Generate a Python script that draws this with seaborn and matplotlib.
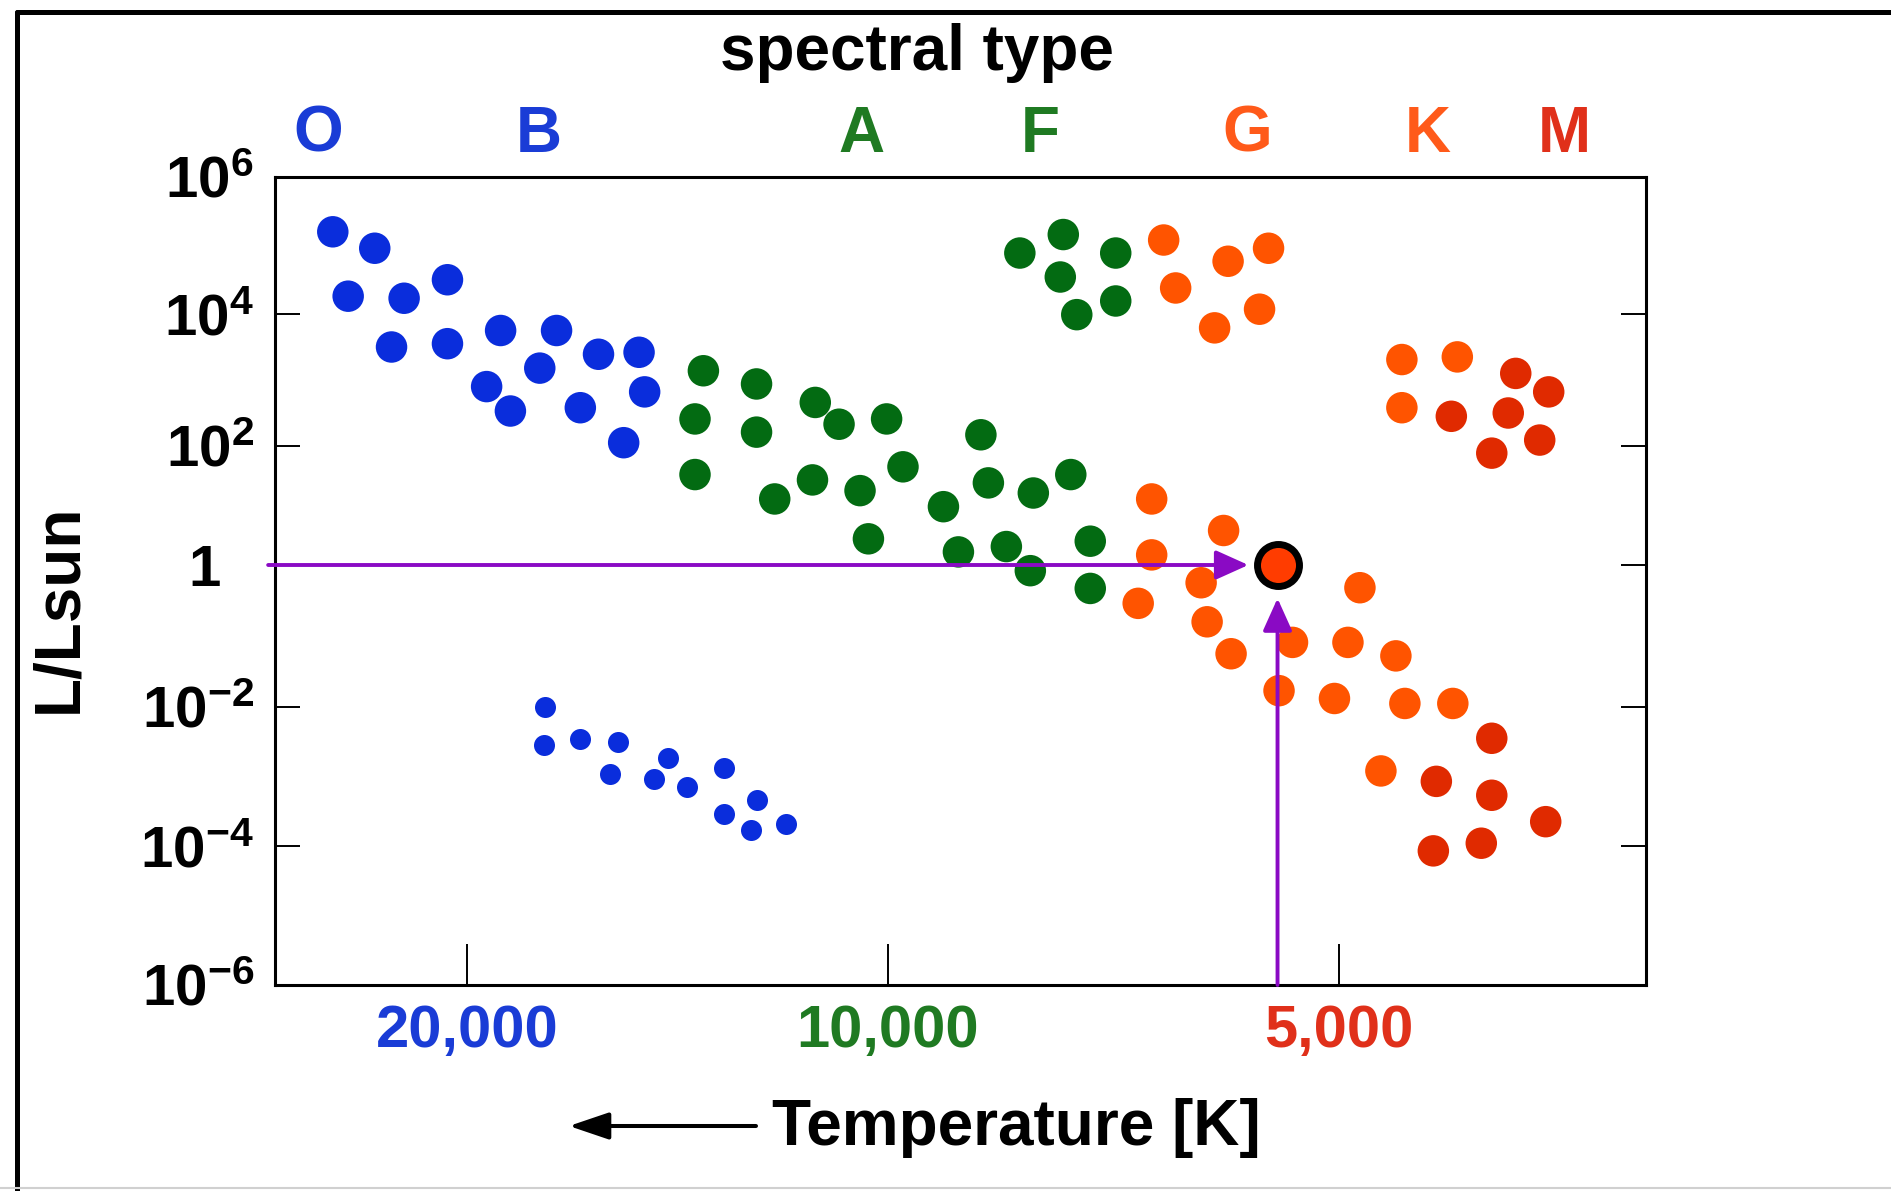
import numpy as np
import pandas as pd
import matplotlib
matplotlib.use("Agg")
import matplotlib.pyplot as plt
import seaborn as sns
from matplotlib.lines import Line2D
from matplotlib.ticker import NullLocator

# ---------------- data: log10(T [K]), log10(L/Lsun) ----------------
blue_logT = [4.397, 4.367, 4.386, 4.346, 4.315, 4.355, 4.315, 4.277, 4.237, 4.249,
             4.287, 4.270, 4.207, 4.178, 4.174, 4.220, 4.189]
blue_logL = [5.20, 4.96, 4.26, 4.23, 4.50, 3.50, 3.55, 3.75, 3.75, 3.18,
             2.90, 2.53, 3.39, 3.42, 2.82, 2.58, 2.05]

green_logT = [4.132, 4.094, 4.138, 4.094, 4.138, 4.081, 4.052, 4.035, 4.001, 4.054,
              4.020, 3.990, 3.938, 3.963, 3.933, 3.903, 3.878, 4.014, 3.953, 3.921,
              3.905, 3.865, 3.865, 3.912, 3.883, 3.848, 3.885, 3.874, 3.848]
green_logL = [3.14, 2.94, 2.41, 2.21, 1.52, 1.11, 2.66, 2.33, 2.41, 1.43,
              1.25, 1.65, 2.17, 0.98, 1.38, 1.21, 1.52, 0.44, 0.22, 0.31,
              -0.08, 0.40, -0.33, 4.89, 5.16, 4.89, 4.54, 3.99, 4.19]

orange_logT = [3.816, 3.773, 3.746, 3.808, 3.782, 3.752, 3.657, 3.620, 3.657, 3.824,
               3.776, 3.824, 3.791, 3.833, 3.787, 3.771, 3.739, 3.730, 3.685, 3.693,
               3.702, 3.661, 3.655, 3.623, 3.671]
orange_logL = [5.08, 4.77, 4.96, 4.38, 3.79, 4.07, 3.31, 3.35, 2.58, 1.11,
               0.58, 0.17, -0.25, -0.54, -0.80, -1.25, -1.77, -1.09, -0.32, -1.09,
               -1.88, -1.28, -1.95, -1.95, -2.92]

red_logT = [3.581, 3.559, 3.624, 3.586, 3.565, 3.597, 3.597, 3.634, 3.597, 3.636, 3.604, 3.561]
red_logL = [3.10, 2.82, 2.45, 2.50, 2.09, 1.88, -2.45, -3.07, -3.27, -4.07, -3.96, -3.65]

wd_logT = [4.245, 4.246, 4.220, 4.193, 4.199, 4.157, 4.167, 4.144, 4.117, 4.094, 4.117, 4.098, 4.073]
wd_logL = [-2.00, -2.54, -2.46, -2.50, -2.96, -2.73, -3.04, -3.15, -2.88, -3.34, -3.54, -3.77, -3.69]

sun_logT = 3.740
sun_logL = 0.0

spectral_types = ["O", "B", "A", "F", "G", "K", "M"]
temp_ticks = [20000, 10000, 5000]
temp_ticklabels = ["20,000", "10,000", "5,000"]
lum_ticks = [1e-6, 1e-4, 1e-2, 1, 1e2, 1e4, 1e6]
lum_ticklabels = [r"$\mathbf{10}^{\mathbf{-6}}$", r"$\mathbf{10}^{\mathbf{-4}}$",
                  r"$\mathbf{10}^{\mathbf{-2}}$", "1  ", r"$\mathbf{10}^{\mathbf{2}}$",
                  r"$\mathbf{10}^{\mathbf{4}}$", r"$\mathbf{10}^{\mathbf{6}}$"]

# ---------------- style ----------------
BLUE = "#0a2ddc"
GREEN = "#036b12"
ORANGE = "#ff5400"
RED = "#e02a00"
SUN = "#ff3c00"
PURPLE = "#8a0ac4"
PALETTE = {"OB": BLUE, "AF": GREEN, "GK": ORANGE, "M": RED}
LETTER_COLORS = ["#1a3cd6", "#1a3cd6", "#1f7a22", "#1f7a22", "#ff5a1a", "#ff5a1a", "#e0301a"]
TICK_COLORS = ["#1a3cd6", "#1f7a22", "#e0301a"]

sns.set_style("white")
plt.rcParams["font.family"] = ["Liberation Sans", "DejaVu Sans"]
plt.rcParams["mathtext.fontset"] = "custom"
plt.rcParams["mathtext.rm"] = "Liberation Sans"
plt.rcParams["mathtext.bf"] = "Liberation Sans:bold"
plt.rcParams["mathtext.it"] = "Liberation Sans:italic"
plt.rcParams["text.color"] = "black"
plt.rcParams["axes.labelcolor"] = "black"
plt.rcParams["xtick.color"] = "black"
plt.rcParams["ytick.color"] = "black"

W, H = 1891, 1191

# axis layout (pixel knots of the original hand-made log axes)
XK_LOG = np.array([3.0, np.log10(5000), 4.0, np.log10(20000), 5.0])
XK_U = -np.array([2386.2, 1339.0, 888.0, 467.0, -510.5])
YK_LOG = np.array([-8, -6, -4, -2, 0, 2, 4, 6, 8], dtype=float)
YK_U = -np.array([1124, 985, 846, 707, 565, 446, 314, 177, 40], dtype=float)


def fwd_x(t):
    return np.interp(np.log10(np.clip(t, 1e-9, None)), XK_LOG, XK_U)


def inv_x(u):
    return 10 ** np.interp(u, XK_U, XK_LOG)


def fwd_y(v):
    return np.interp(np.log10(np.clip(v, 1e-300, None)), YK_LOG, YK_U)


def inv_y(u):
    return 10 ** np.interp(u, YK_U, YK_LOG)


def frame(logT, logL, cls):
    return pd.DataFrame({"T": 10 ** np.asarray(logT), "L": 10 ** np.asarray(logL), "cls": cls})


stars = pd.concat([frame(blue_logT, blue_logL, "OB"), frame(green_logT, green_logL, "AF"),
                   frame(orange_logT, orange_logL, "GK"), frame(red_logT, red_logL, "M")],
                  ignore_index=True)
dwarfs = frame(wd_logT, wd_logL, "WD")
sun_T = 10 ** sun_logT
sun_L = 10 ** sun_logL

fig = plt.figure(figsize=(W / 100, H / 100), dpi=100)
ax = fig.add_axes([275 / W, 1 - 985 / H, 1371 / W, 808 / H])
ax.set_xscale("function", functions=(fwd_x, inv_x))
ax.set_yscale("function", functions=(fwd_y, inv_y))

sns.scatterplot(data=stars, x="T", y="L", hue="cls", palette=PALETTE, s=514,
                linewidth=0, legend=False, ax=ax, zorder=3)
sns.scatterplot(data=dwarfs, x="T", y="L", color=BLUE, s=229,
                linewidth=0, legend=False, ax=ax, zorder=3)

# arrows to the Sun
akw = dict(arrowstyle="-|>,head_length=2.0,head_width=0.9", color=PURPLE, lw=2.8,
           shrinkA=0, shrinkB=21, mutation_scale=10)
ax.annotate("", xy=(sun_T, sun_L), xytext=(-0.005, sun_L), textcoords=ax.get_yaxis_transform(),
            arrowprops=akw, annotation_clip=False, zorder=4)
ax.annotate("", xy=(sun_T, sun_L), xytext=(sun_T, 0.0), textcoords=ax.get_xaxis_transform(),
            arrowprops=dict(akw, shrinkB=24), annotation_clip=False, zorder=4)
ax.scatter([sun_T], [sun_L], s=914, c=SUN, edgecolors="black", linewidths=5, zorder=5)

ax.set_xlim(inv_x(-275.0), inv_x(-1646.0))
ax.set_ylim(1e-6, 1e6)

ax.set_xticks(temp_ticks)
ax.set_xticklabels(temp_ticklabels)
ax.xaxis.set_minor_locator(NullLocator())
ax.set_yticks(lum_ticks)
ax.set_yticklabels(lum_ticklabels)
ax.yaxis.set_minor_locator(NullLocator())

ax.tick_params(axis="x", direction="in", length=29.5, width=1.4, colors="black",
               top=False, bottom=True, pad=14, labelsize=43)
ax.tick_params(axis="y", direction="in", length=18, width=1.4, left=True, right=True,
               labelleft=True, labelright=False, pad=15, labelsize=42,
               colors="black", labelcolor="black")
for lab, c in zip(ax.get_xticklabels(), TICK_COLORS):
    lab.set_color(c)
    lab.set_fontweight("bold")
for lab in ax.get_yticklabels():
    lab.set_fontweight("bold")
    lab.set_color("black")
for sp in ax.spines.values():
    sp.set_visible(True)
    sp.set_color("black")
    sp.set_linewidth(2.2)

ax.set_ylabel("L/Lsun", fontsize=46, fontweight="bold", va="center", color="black")
ax.yaxis.set_label_coords((59 - 275) / 1371, 1 - (608.5 - 177) / 808)
ax.set_xlabel("Temperature [K]", fontsize=46, fontweight="bold", va="baseline", color="black")
ax.xaxis.set_label_coords((1016 - 275) / 1371, -(1145 - 985) / 808)

# spectral type header
fig.text(916.5 / W, 1 - 70 / H, "spectral type", ha="center", va="baseline",
         fontsize=46, fontweight="bold", color="black")
letter_x = [318, 539, 861, 1040, 1247, 1428, 1564]
for s, x, c in zip(spectral_types, letter_x, LETTER_COLORS):
    fig.text(x / W, 1 - 152 / H, s, ha="center", va="baseline", fontsize=46,
             fontweight="bold", color=c)

# arrow left of the x label
ax.annotate("", xy=(569, H - 1126), xycoords="figure pixels", xytext=(756, H - 1126),
            textcoords="figure pixels", annotation_clip=False,
            arrowprops=dict(arrowstyle="-|>,head_length=2.45,head_width=0.83", lw=2.9,
                            color="black", shrinkA=0, shrinkB=0, mutation_scale=10))

# slide frame
fig.add_artist(Line2D([17 / W, 1], [1 - 12 / H] * 2, transform=fig.transFigure, color="black", lw=3.6))
fig.add_artist(Line2D([17 / W] * 2, [0, 1 - 12 / H], transform=fig.transFigure, color="black", lw=3.6))
fig.add_artist(Line2D([0, 1], [1 - 1188 / H] * 2, transform=fig.transFigure, color="#d0d0d0", lw=1.5))

fig.savefig("out.png", dpi=100)
